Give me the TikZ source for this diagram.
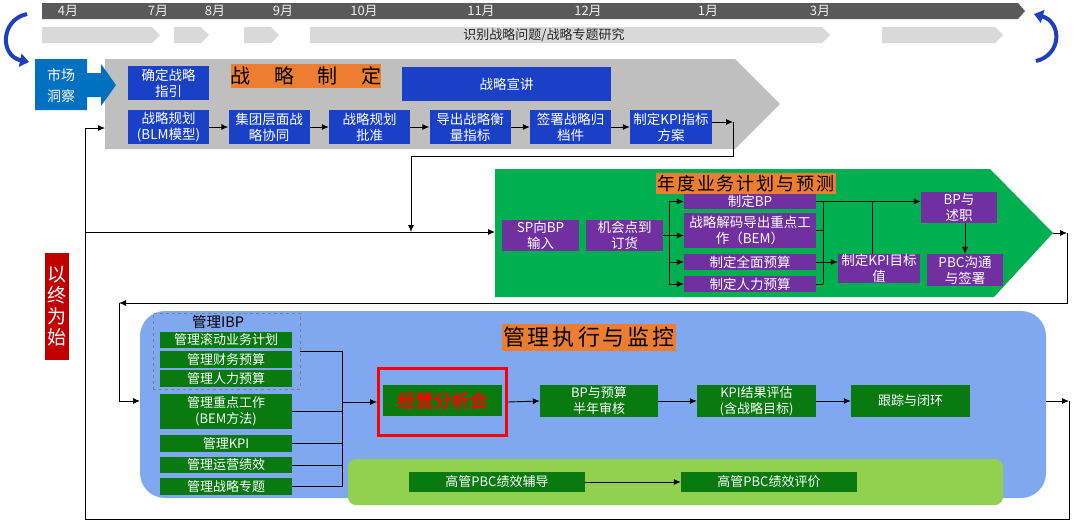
\documentclass[tikz,border=0pt]{standalone}
\usepackage{fontspec}
\setmainfont{Noto Sans CJK SC}
\newfontfamily\boldcjk[FakeBold=2.5]{Noto Sans CJK SC}
\usetikzlibrary{arrows.meta}
\definecolor{sblue}{HTML}{1A40C8}
\definecolor{mblue}{HTML}{0070C0}
\definecolor{gbar}{HTML}{595959}
\definecolor{lgray}{HTML}{D9D9D9}
\definecolor{chgray}{HTML}{BFBFBF}
\definecolor{orng}{HTML}{ED7D31}
\definecolor{chgreen}{HTML}{00B050}
\definecolor{purp}{HTML}{7030A0}
\definecolor{dgreen}{HTML}{087A10}
\definecolor{bigblue}{HTML}{7FA8F0}
\definecolor{lgreen}{HTML}{92D050}
\definecolor{arcblue}{HTML}{1F3FBF}
\definecolor{dred}{HTML}{C00000}
\definecolor{monc}{HTML}{F0F0F0}
\definecolor{txtd}{HTML}{262626}
\tikzset{
  sz/.style 2 args={minimum width=#1, minimum height=#2},
  sbox/.style={fill=sblue, text=white, inner sep=0pt, align=center, font=\fontsize{13.5}{16}\selectfont},
  pbox/.style={fill=purp, text=white, inner sep=0pt, align=center, font=\fontsize{13.5}{16}\selectfont},
  gbox/.style={fill=dgreen, text=white, inner sep=0pt, align=center, font=\fontsize{13}{16}\selectfont},
  otitle/.style={fill=orng, text=black, inner sep=0pt},
  mon/.style={text=monc, font=\fontsize{13}{15}\selectfont, inner sep=0pt},
  arr/.style={line width=0.9pt, -{Latex[length=7pt,width=6pt]}},
  ln/.style={line width=0.9pt},
  arc/.style={arcblue, line width=4pt, -{Triangle[length=9pt,width=13pt]}},
}
\begin{document}
\begin{tikzpicture}[x=1pt,y=-1pt]
\useasboundingbox (0,0) rectangle (1080,528);
% ---------- timeline ----------
\fill[gbar] (42,3) -- (1018,3) -- (1025,11) -- (1018,19) -- (42,19) -- cycle;
\node[mon] (m4) at (68,11) {4月};
\node[mon] (m7) at (158,11) {7月};
\node[mon] (m8) at (215,11) {8月};
\node[mon] (m9) at (283,11) {9月};
\node[mon] (m10) at (364,11) {10月};
\node[mon] (m11) at (481,11) {11月};
\node[mon] (m12) at (588,11) {12月};
\node[mon] (m1) at (708,11) {1月};
\node[mon] (m3) at (820,11) {3月};
\fill[lgray] (42,27) -- (152,27) -- (160,35) -- (152,43) -- (42,43) -- cycle;
\fill[lgray] (174,27) -- (201,27) -- (209,35) -- (201,43) -- (174,43) -- cycle;
\fill[lgray] (244,27) -- (271,27) -- (279,35) -- (271,43) -- (244,43) -- cycle;
\fill[lgray] (310,27) -- (822,27) -- (830,35) -- (822,43) -- (310,43) -- cycle;
\fill[lgray] (882,27) -- (995,27) -- (1003,35) -- (995,43) -- (882,43) -- cycle;
\node[text=txtd, inner sep=0pt, font=\fontsize{13}{15}\selectfont] (ts) at (544,35.5) {识别战略问题/战略专题研究};
\draw[arc] (27,14) .. controls (0,20) and (0,56) .. (29,62);
\draw[arc] (1036,61) .. controls (1062,55) and (1062,22) .. (1034,14);
% ---------- strategy ----------
\fill[chgray] (105,59) -- (735,59) -- (780,104) -- (735,149) -- (105,149) -- cycle;
\coordinate (gch) at (105,128);
\fill[mblue] (35,59) -- (87,59) -- (87,73) -- (101,73) -- (101,64) -- (116,85) -- (101,106) -- (101,97) -- (87,97) -- (87,110) -- (35,110) -- cycle;
\node[text=white, align=center, inner sep=0pt, font=\fontsize{14}{21}\selectfont] (sc) at (61,85.5) {市场\\洞察};
\node[sbox, sz={81pt}{34pt}] (a0) at (168.5,83) {确定战略\\指引};
\node[otitle, sz={150pt}{24pt}, font=\fontsize{20}{22}\selectfont] (t1) at (306,76) {战\hspace{23.5pt}略\hspace{23.5pt}制\hspace{23.5pt}定};
\node[sbox, sz={209pt}{34pt}] (a00) at (506.5,84) {战略宣讲};
\node[sbox, sz={81pt}{34pt}] (b1) at (168.5,127) {战略规划\\(BLM模型)};
\node[sbox, sz={81pt}{34pt}] (b2) at (269,127) {集团层面战\\略协同};
\node[sbox, sz={81pt}{34pt}] (b3) at (369.5,127) {战略规划\\批准};
\node[sbox, sz={81pt}{34pt}] (b4) at (470,127) {导出战略衡\\量指标};
\node[sbox, sz={81pt}{34pt}] (b5) at (570.5,127) {签署战略归\\档件};
\node[sbox, sz={82pt}{34pt}] (b6) at (671,127) {制定KPI指标\\方案};
\draw[arr] (b1) -- (b2);
\draw[arr] (b2) -- (b3);
\draw[arr] (b3) -- (b4);
\draw[arr] (b4) -- (b5);
\draw[arr] (b5) -- (b6);
\coordinate (k1) at (733,122);
\coordinate (k2) at (733,156);
\coordinate (k3) at (411,156);
\coordinate (k4) at (411,232);
\draw[arr] (b6.east |- k1) -- (k1);
\draw[arr] (k1) -- (k2) -- (k3) -- (k4);
% ---------- left loop ----------
\coordinate (L1) at (85,128);
\coordinate (L2) at (85,519);
\coordinate (L3) at (85,232);
\coordinate (R1) at (1069,401);
\coordinate (R2) at (1069,519);
\coordinate (gin) at (495,232);
\draw[arr] (L1) -- (gch);
\draw[arr] (L3) -- (gin);
\node[fill=dred, text=white, inner sep=0pt, align=center, sz={24pt}{107pt}, font=\fontsize{19}{21}\selectfont] (lab) at (57,306.5) {以\\终\\为\\始};
% ---------- annual plan ----------
\fill[chgreen] (495,169) -- (990,169) -- (1053,233) -- (994,297) -- (495,297) -- cycle;
\coordinate (gtip) at (1053,233);
\node[pbox, sz={77pt}{31pt}] (p1) at (540.5,235.5) {SP向BP\\输入};
\node[pbox, sz={77pt}{31pt}] (p2) at (624.5,235.5) {机会点到\\订货};
\node[pbox, sz={132pt}{15pt}] (p3) at (750,201.5) {制定BP};
\node[pbox, sz={132pt}{35pt}] (p4) at (750,230.5) {战略解码导出重点工\\作（BEM）};
\node[pbox, sz={132pt}{16pt}] (p5) at (750,262) {制定全面预算};
\node[pbox, sz={132pt}{16pt}] (p6) at (750,284) {制定人力预算};
\node[pbox, sz={82pt}{29pt}] (p7) at (879,268.5) {制定KPI目标\\值};
\node[pbox, sz={76pt}{31pt}] (p8) at (959,207.5) {BP与\\述职};
\node[pbox, sz={76pt}{32pt}] (p9) at (965,270) {PBC沟通\\与签署};
\node[otitle, sz={180pt}{21pt}, font=\fontsize{18}{20}\selectfont] (t2) at (746,183.5) {年\hspace{2pt}度\hspace{2pt}业\hspace{2pt}务\hspace{2pt}计\hspace{2pt}划\hspace{2pt}与\hspace{2pt}预\hspace{2pt}测};
\coordinate (gb1) at (669,201.5);
\coordinate (gb2) at (669,284);
\draw[arr] (p2.east) -- (p4.west |- p2.east);
\draw[ln] (gb1) -- (gb2);
\draw[arr] (gb1) -- (p3.west);
\draw[arr] (p5.west -| gb1) -- (p5.west);
\draw[arr] (gb2) -- (p6.west);
\coordinate (rb1) at (823,201.5);
\coordinate (rb2) at (823,284);
\coordinate (kv) at (872,201.5);
\draw[arr] (p3.east) -- (p8.west |- p3.east);
\draw[ln] (rb1) -- (rb2);
\draw[ln] (p4.east) -- (p4.east -| rb1);
\draw[arr] (p5.east) -- (p7.west |- p5.east);
\draw[ln] (p6.east) -- (p6.east -| rb1);
\draw[ln] (kv) -- (kv |- p7.north);
\draw[arr] (p8.south -| p9.north) -- (p9.north);
\coordinate (c1) at (1067,233);
\coordinate (c2) at (1067,303);
\coordinate (c3) at (119,303);
\coordinate (c4) at (119,401);
\draw[arr] (gtip) -- (c1);
\draw[arr] (c1) -- (c2) -- (c3);
% ---------- execution ----------
\fill[bigblue, rounded corners=25pt] (140,311) rectangle (1046,498);
\coordinate (bbi) at (140,401);
\coordinate (bbo) at (1046,401);
\draw[arr] (c3) -- (c4) -- (bbi);
\node[otitle, sz={174pt}{27pt}, font=\fontsize{22}{24}\selectfont] (t3) at (589,337) {管\hspace{3pt}理\hspace{3pt}执\hspace{3pt}行\hspace{3pt}与\hspace{3pt}监\hspace{3pt}控};
\node[draw=gray, dashed, line width=0.8pt, sz={147pt}{76pt}, inner sep=0pt] (ibp) at (226.5,351) {};
\node[inner sep=0pt, font=\fontsize{14.5}{16}\selectfont] (ibpt) at (218,322) {管理IBP};
\node[gbox, sz={132pt}{16pt}] (q1) at (226,340) {管理滚动业务计划};
\node[gbox, sz={132pt}{17pt}] (q2) at (226,359.5) {管理财务预算};
\node[gbox, sz={132pt}{17pt}] (q3) at (226,378.5) {管理人力预算};
\node[gbox, sz={132pt}{35pt}] (q4) at (226,411.5) {管理重点工作\\(BEM方法)};
\node[gbox, sz={132pt}{17pt}] (q5) at (226,443.5) {管理KPI};
\node[gbox, sz={132pt}{16pt}] (q6) at (226,465) {管理运营绩效};
\node[gbox, sz={132pt}{17pt}] (q7) at (226,486.5) {管理战略专题};
\coordinate (eb1) at (342,351);
\coordinate (eb2) at (342,487);
\draw[ln] (ibp.east) -- (eb1) -- (eb2);
\draw[ln] (q4.east) -- (q4.east -| eb1);
\draw[ln] (q5.east) -- (q5.east -| eb1);
\draw[ln] (q6.east) -- (q6.east -| eb1);
\draw[ln] (q7.east) -- (q7.east -| eb1);
\node[draw=red, line width=3pt, sz={128pt}{67pt}, inner sep=0pt] (rf) at (442.5,402) {};
\node[gbox, sz={119pt}{31pt}, text=red, font=\boldcjk\fontsize{18}{20}\selectfont] (e1) at (442.5,400.5) {经营分析会};
\node[gbox, sz={118pt}{32pt}] (e2) at (599,401) {BP与预算\\半年审核};
\node[gbox, sz={119pt}{32pt}] (e3) at (756.5,401) {KPI结果评估\\(含战略目标)};
\node[gbox, sz={119pt}{32pt}] (e4) at (910.5,401) {跟踪与闭环};
\draw[arr] (rf.west -| eb1) -- (rf.west);
\draw[arr] (rf.east) -- (e2.west);
\draw[arr] (e2) -- (e3);
\draw[arr] (e3) -- (e4);
\fill[lgreen, rounded corners=8pt] (348,459) rectangle (1003,505);
\node[gbox, sz={176pt}{20pt}] (f1) at (497,482) {高管PBC绩效辅导};
\node[gbox, sz={176pt}{20pt}] (f2) at (769,482) {高管PBC绩效评价};
\draw[arr] (f1) -- (f2);
\draw[arr] (bbo) -- (R1);
\draw[ln] (R1) -- (R2) -- (L2) -- (L1);
\end{tikzpicture}
\end{document}
